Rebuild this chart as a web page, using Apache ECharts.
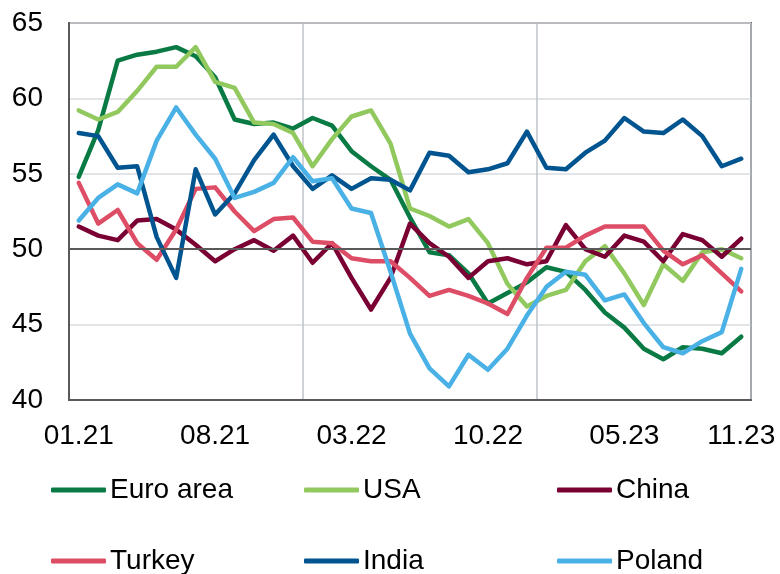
<!DOCTYPE html>
<html>
<head>
<meta charset="utf-8">
<script src="https://cdn.jsdelivr.net/npm/echarts@6/dist/echarts.min.js"></script>
<style>
html,body{margin:0;padding:0;background:#fff;}
#chart{width:780px;height:574px;}
</style>
</head>
<body>
<div id="chart"></div>
<script>
const months = ["01.21","02.21","03.21","04.21","05.21","06.21","07.21","08.21","09.21","10.21","11.21","12.21",
  "01.22","02.22","03.22","04.22","05.22","06.22","07.22","08.22","09.22","10.22","11.22","12.22",
  "01.23","02.23","03.23","04.23","05.23","06.23","07.23","08.23","09.23","10.23","11.23"];
const labelIndex = [0, 7, 14, 21, 28, 34];
const yearBreaks = [12, 24];

const euroArea = [54.8,57.9,62.5,62.9,63.1,63.4,62.8,61.4,58.6,58.3,58.4,58.0,58.7,58.2,56.5,55.5,54.6,52.1,49.8,49.6,48.4,46.4,47.1,47.8,48.8,48.5,47.3,45.8,44.8,43.4,42.7,43.5,43.4,43.1,44.2];
const usa = [59.2,58.6,59.1,60.5,62.1,62.1,63.4,61.1,60.7,58.4,58.3,57.7,55.5,57.3,58.8,59.2,57.0,52.7,52.2,51.5,52.0,50.4,47.7,46.2,46.9,47.3,49.2,50.2,48.4,46.3,49.0,47.9,49.8,50.0,49.4];
const china = [51.5,50.9,50.6,51.9,52.0,51.3,50.3,49.2,50.0,50.6,49.9,50.9,49.1,50.4,48.1,46.0,48.1,51.7,50.4,49.5,48.1,49.2,49.4,49.0,49.2,51.6,50.0,49.5,50.9,50.5,49.2,51.0,50.6,49.5,50.7];
const turkey = [54.4,51.7,52.6,50.4,49.3,51.3,54.0,54.1,52.5,51.2,52.0,52.1,50.5,50.4,49.4,49.2,49.2,48.1,46.9,47.3,46.9,46.4,45.7,48.1,50.1,50.1,50.9,51.5,51.5,51.5,49.9,49.0,49.6,48.4,47.2];
const india = [57.7,57.5,55.4,55.5,50.8,48.1,55.3,52.3,53.7,55.9,57.6,55.5,54.0,54.9,54.0,54.7,54.6,53.9,56.4,56.2,55.1,55.3,55.7,57.8,55.4,55.3,56.4,57.2,58.7,57.8,57.7,58.6,57.5,55.5,56.0];
const poland = [51.9,53.4,54.3,53.7,57.2,59.4,57.6,56.0,53.4,53.8,54.4,56.1,54.5,54.7,52.7,52.4,48.5,44.4,42.1,40.9,43.0,42.0,43.4,45.6,47.5,48.5,48.3,46.6,47.0,45.1,43.5,43.1,43.9,44.5,48.7];
const yTicks = [40, 45, 50, 55, 60, 65];
const refLevel = 50;

const seriesDefs = [
  {name: "Euro area", data: euroArea, color: "#0A7A45"},
  {name: "USA", data: usa, color: "#92C95F"},
  {name: "China", data: china, color: "#7A0033"},
  {name: "Turkey", data: turkey, color: "#DE4D66"},
  {name: "India", data: india, color: "#00548F"},
  {name: "Poland", data: poland, color: "#4AB1E6"}
];

const FONT = "'Liberation Sans', Arial, sans-serif";
const legendPos = [
  {left: 51, top: 475}, {left: 304, top: 475}, {left: 557, top: 475},
  {left: 51, top: 546}, {left: 304, top: 546}, {left: 557, top: 546}
];

const chart = echarts.init(document.getElementById('chart'), null, {renderer: 'canvas'});
const option = {
  animation: false,
  backgroundColor: '#ffffff',
  grid: {left: 69, right: 29, top: 23, bottom: 174, show: true, borderColor: '#595959', borderWidth: 2, backgroundColor: 'transparent'},
  legend: seriesDefs.map((s, i) => ({
    data: [s.name],
    left: legendPos[i].left,
    top: legendPos[i].top,
    padding: 0,
    icon: 'roundRect',
    itemWidth: 55,
    itemHeight: 5,
    itemGap: 0,
    selectedMode: false,
    textStyle: {fontFamily: FONT, fontSize: 28, color: '#000', lineHeight: 30, padding: [0, 0, 0, -1]}
  })),
  xAxis: {
    type: 'category',
    data: months,
    boundaryGap: true,
    axisLine: {show: true, lineStyle: {color: '#595959', width: 2}},
    axisTick: {show: false},
    axisLabel: {
      interval: (idx) => labelIndex.includes(idx),
      fontFamily: FONT, fontSize: 28, color: '#000', margin: 22
    },
    splitLine: {
      show: true,
      interval: (idx) => yearBreaks.includes(idx),
      lineStyle: {color: '#BFC3C8', width: 1.5}
    }
  },
  yAxis: {
    type: 'value',
    min: yTicks[0],
    max: yTicks[yTicks.length - 1],
    interval: 5,
    axisLine: {show: true, lineStyle: {color: '#595959', width: 2}},
    axisTick: {show: false},
    axisLabel: {fontFamily: FONT, fontSize: 28, color: '#000', margin: 26},
    splitLine: {show: true, lineStyle: {color: '#D9DBDF', width: 1.5}}
  },
  series: [
    {
      name: '__ref', type: 'line', data: [], z: 1, silent: true,
      markLine: {
        silent: true, symbol: 'none', label: {show: false},
        lineStyle: {color: '#595959', width: 2, type: 'solid'},
        data: [{yAxis: refLevel}]
      }
    }
  ].concat(seriesDefs.map(s => ({
    name: s.name,
    type: 'line',
    data: s.data,
    z: 3,
    symbol: 'none',
    smooth: false,
    lineStyle: {color: s.color, width: 4.5, cap: 'round', join: 'round'},
    itemStyle: {color: s.color}
  })))
};
chart.setOption(option);
</script>
</body>
</html>
